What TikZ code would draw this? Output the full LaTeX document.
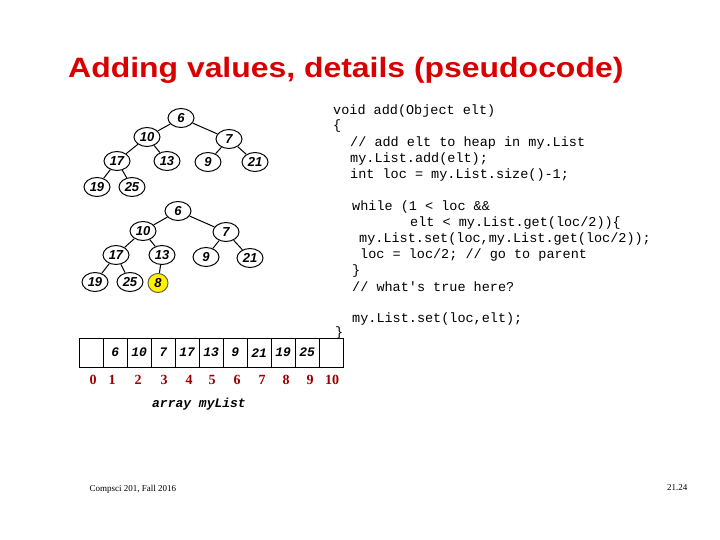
\documentclass[tikz,border=0pt]{standalone}
\usepackage{fontspec}
\usetikzlibrary{shapes.geometric}
\setmainfont{Liberation Serif}
\setsansfont{Liberation Sans}
\setmonofont{Liberation Mono}
\begin{document}
\begin{tikzpicture}[x=1pt,y=-1pt,
  hn/.style={draw,ellipse,line width=1pt,minimum width=26pt,minimum height=19pt,inner sep=0pt,font=\fontsize{13}{13}\sffamily\bfseries\itshape},
  ed/.style={line width=1pt},
  code/.style={anchor=west,inner sep=0pt,font=\fontsize{13.5}{14}\ttfamily},
  cell/.style={draw,minimum width=24pt,minimum height=29pt,inner sep=0pt,anchor=north west,font=\fontsize{13}{13}\ttfamily\bfseries\itshape},
  idx/.style={text=red!60!black,font=\fontsize{14}{14}\bfseries}]
\useasboundingbox (0,0) rectangle (720,540);
\node[anchor=west,inner sep=0pt,xscale=1.14,text=red!85!black,font=\fontsize{28}{28}\sffamily\bfseries] (title) at (68,70) {Adding values, details (pseudocode)};
% tree 1
\node[hn] (a6) at (181,118) {6};
\node[hn] (a10) at (147,137) {10};
\node[hn] (a7) at (229,139) {7};
\node[hn] (a17) at (117,161) {17};
\node[hn] (a13) at (167,161) {13};
\node[hn] (a9) at (208,162) {9};
\node[hn] (a21) at (255,162) {21};
\node[hn] (a19) at (97,187) {19};
\node[hn] (a25) at (132,187) {25};
\draw[ed] (a6)--(a10) (a6)--(a7) (a10)--(a17) (a10)--(a13) (a7)--(a9) (a7)--(a21) (a17)--(a19) (a17)--(a25);
% tree 2
\node[hn] (b6) at (178,211) {6};
\node[hn] (b10) at (143,231) {10};
\node[hn] (b7) at (226,232) {7};
\node[hn] (b17) at (116,255) {17};
\node[hn] (b13) at (162,255) {13};
\node[hn] (b9) at (206,257) {9};
\node[hn] (b21) at (250,258) {21};
\node[hn] (b19) at (95,282) {19};
\node[hn] (b25) at (130,282) {25};
\node[hn,fill=yellow,draw=black!70!yellow,minimum width=20pt] (b8) at (158,283) {8};
\draw[ed] (b6)--(b10) (b6)--(b7) (b10)--(b17) (b10)--(b13) (b7)--(b9) (b7)--(b21) (b17)--(b19) (b17)--(b25) (b13)--(b8);
% code
\node[code] (c1) at (333,111) {void add(Object elt)};
\node[code] (c2) at (333,126) {\{};
\node[code] (c3) at (350,143) {// add elt to heap in my.List};
\node[code] (c4) at (350,159) {my.List.add(elt);};
\node[code] (c5) at (350,175) {int loc = my.List.size()-1;};
\node[code] (c6) at (352,207) {while (1 < loc \&\&};
\node[code] (c7) at (410,223) {elt < my.List.get(loc/2))\{};
\node[code] (c8) at (359,239) {my.List.set(loc,my.List.get(loc/2));};
\node[code] (c9) at (360,255) {loc = loc/2; // go to parent};
\node[code] (c10) at (352,271) {\}};
\node[code] (c11) at (352,287) {// what's true here?};
\node[code] (c12) at (352,319) {my.List.set(loc,elt);};
\node[code] (c13) at (335,333) {\}};
% array
\foreach \v [count=\i from 0] in {,6,10,7,17,13,9,21,19,25,}
  \node[cell] (k\i) at (79+24*\i,338) {\v};
\foreach \x/\t [count=\i from 0] in {93/0,112/1,138/2,164/3,189/4,212/5,237/6,262/7,286/8,310/9,332/10}
  \node[idx] (n\i) at (\x,380) {\t};
\node[font=\fontsize{13}{13}\ttfamily\bfseries\itshape] (lab) at (199,404) {array myList};
\node[anchor=west,font=\fontsize{9}{9}\selectfont] (foot) at (86,489) {Compsci 201, Fall 2016};
\node[anchor=east,font=\fontsize{9}{9}\selectfont] (pg) at (691,488) {21.24};
\end{tikzpicture}
\end{document}
